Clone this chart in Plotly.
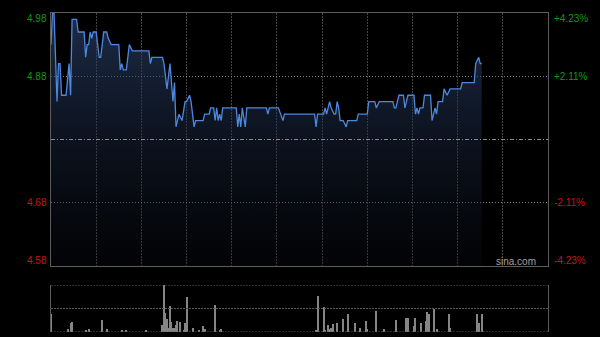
import plotly.graph_objects as go

# ---- data (minutes since open, price) ----
price_t = [0, 1, 2, 4, 5, 6, 7, 10, 12, 13, 14, 17, 18, 22, 23, 24, 25, 26, 27, 28, 30,
           32, 33, 35, 37, 38, 40, 45, 46, 47, 48, 50, 52, 54, 65, 66, 67, 74, 75, 77,
           79, 81, 82, 83, 85, 87, 89, 90, 92, 93, 95, 96, 101, 102, 105, 106, 108, 109,
           110, 111, 112, 113, 114, 123, 124, 125, 126, 127, 129, 130, 143, 144, 145, 151,
           154, 155, 175, 176, 177, 181, 182, 183, 185, 186, 188, 189, 190, 191, 192, 194,
           196, 197, 203, 204, 210, 211, 215, 216, 218, 227, 228, 229, 231, 234, 235, 237,
           241, 242, 243, 244, 245, 247, 248, 252, 253, 255, 256, 257, 260, 261, 263, 265,
           272, 273, 281, 282, 284, 285, 286]
price_v = [4.93, 4.98, 4.98, 4.84, 4.90, 4.90, 4.85, 4.85, 4.90, 4.85, 4.97, 4.97, 4.95, 4.95,
           4.91, 4.93, 4.93, 4.95, 4.94, 4.95, 4.95, 4.91, 4.91, 4.95, 4.95, 4.94, 4.93, 4.93,
           4.89, 4.90, 4.89, 4.89, 4.93, 4.92, 4.92, 4.90, 4.91, 4.91, 4.90, 4.86, 4.90, 4.84,
           4.87, 4.80, 4.82, 4.81, 4.84, 4.84, 4.85, 4.84, 4.80, 4.81, 4.81, 4.82, 4.82, 4.83,
           4.83, 4.81, 4.83, 4.81, 4.82, 4.81, 4.83, 4.83, 4.80, 4.82, 4.80, 4.83, 4.80, 4.83,
           4.83, 4.82, 4.83, 4.83, 4.81, 4.82, 4.82, 4.80, 4.82, 4.82, 4.83, 4.82, 4.84, 4.83,
           4.82, 4.82, 4.84, 4.83, 4.81, 4.81, 4.80, 4.81, 4.81, 4.82, 4.82, 4.84, 4.84, 4.83,
           4.84, 4.84, 4.83, 4.83, 4.85, 4.85, 4.83, 4.85, 4.85, 4.82, 4.83, 4.82, 4.83, 4.83,
           4.85, 4.85, 4.81, 4.83, 4.82, 4.84, 4.84, 4.86, 4.85, 4.86, 4.86, 4.87, 4.87, 4.90,
           4.91, 4.90, 4.90]

vol_t = [0, 11, 13, 14, 23, 25, 34, 37, 47, 50, 63, 74, 75, 76, 77, 78, 79, 80, 81, 82, 83,
         84, 86, 88, 89, 90, 94, 98, 101, 102, 109, 112, 113, 176, 177, 181, 182, 184, 185,
         186, 187, 190, 194, 197, 202, 205, 209, 210, 216, 221, 229, 236, 237, 241, 242, 246,
         249, 250, 251, 254, 256, 264, 265, 283, 284, 286]
vol_v = [38, 6, 20, 22, 3, 6, 26, 6, 4, 4, 3, 15, 100, 41, 28, 8, 55, 22, 8, 8, 15,
         24, 21, 4, 20, 75, 8, 4, 13, 6, 57, 4, 6, 4, 77, 53, 5, 15, 6,
         9, 17, 20, 28, 38, 20, 8, 23, 6, 45, 6, 26, 30, 30, 13, 30, 20,
         24, 43, 38, 48, 6, 38, 9, 38, 20, 38]

left_vals = [4.98, 4.88, 4.68, 4.58]
left_labels = ["4.98", "4.88", "4.68", "4.58"]
right_labels = ["+4.23%", "+2.11%", "-2.11%", "-4.23%"]
prev_close = 4.78

W, H = 600, 337
X0, X1 = 51, 548
GREEN, RED = "#0f9a0f", "#d01010"
FONT = "Liberation Sans, Arial, sans-serif"

fig = go.Figure()
fig.add_trace(go.Scatter(
    x=price_t, y=price_v, mode="lines",
    line=dict(color="#4d88de", width=1.3),
    fill="tozeroy",
    fillgradient=dict(type="vertical",
                      colorscale=[[0, "rgba(10,14,24,0.25)"], [1, "rgba(48,74,120,0.6)"]],
                      start=4.58, stop=4.98),
    hoverinfo="skip", xaxis="x", yaxis="y"))
fig.add_trace(go.Bar(
    x=vol_t, y=vol_v, width=0.7,
    marker=dict(color="#858585", line_width=0),
    hoverinfo="skip", xaxis="x2", yaxis="y2"))

shapes = [
    dict(type="line", xref="x domain", yref="y", x0=0, x1=1, y0=prev_close, y1=prev_close,
         line=dict(color="#8a8a8a", width=1, dash="4px,2px,1px,2px")),
]
for v in [0, 50, 100]:
    shapes.append(dict(type="line", xref="x2 domain", yref="y2", x0=0, x1=1, y0=v, y1=v,
                       line=dict(color="#5a5a5a", width=1, dash="2px,1px")))

ann = []
for i, (v, lt, rt) in enumerate(zip(left_vals, left_labels, right_labels)):
    col = GREEN if v > prev_close else RED
    ys = -5 if i == 0 else (6 if i == 3 else 0)
    ann.append(dict(xref="paper", yref="y", x=(X0 - 2) / W, y=v, yshift=ys, text=lt,
                    showarrow=False, xanchor="right", yanchor="middle",
                    font=dict(color=col, size=10, family=FONT)))
    ann.append(dict(xref="paper", yref="y", x=(X1 + 4) / W, y=v, yshift=ys, text=rt,
                    showarrow=False, xanchor="left", yanchor="middle",
                    font=dict(color=col, size=10, family=FONT)))
ann.append(dict(xref="paper", yref="paper", x=538 / W, y=1 - 261 / H, text="sina.com",
                showarrow=False, xanchor="right", yanchor="middle",
                font=dict(color="#a0a0a0", size=10, family=FONT)))

fig.update_layout(
    width=W, height=H, margin=dict(l=0, r=0, t=0, b=0),
    paper_bgcolor="#000000", plot_bgcolor="#000000",
    showlegend=False, bargap=0,
    shapes=shapes, annotations=ann,
    xaxis=dict(domain=[X0 / W, X1 / W], range=[0, 330], tick0=0, dtick=30,
               showgrid=True, gridcolor="#444444", griddash="2px,1px", gridwidth=1,
               showticklabels=False, ticks="", zeroline=False,
               showline=True, linecolor="#5c5c5c", linewidth=1, mirror=True),
    yaxis=dict(domain=[1 - 266 / H, 1 - 13 / H], range=[4.58, 4.98],
               tickvals=[4.68, 4.88], showgrid=True, gridcolor="#808080",
               griddash="1px,2px", showticklabels=False, ticks="", zeroline=False,
               showline=True, linecolor="#5c5c5c", linewidth=1, mirror=True),
    xaxis2=dict(domain=[X0 / W, X1 / W], range=[0, 330], anchor="y2",
                showgrid=False, showticklabels=False, ticks="", zeroline=False,
                showline=False),
    yaxis2=dict(domain=[1 - 332 / H, 1 - 285 / H], range=[0, 100], anchor="x2",
                showgrid=False, showticklabels=False, ticks="", zeroline=False,
                showline=True, linecolor="#5c5c5c", linewidth=1, mirror=True),
)

fig.write_html("out.html")
